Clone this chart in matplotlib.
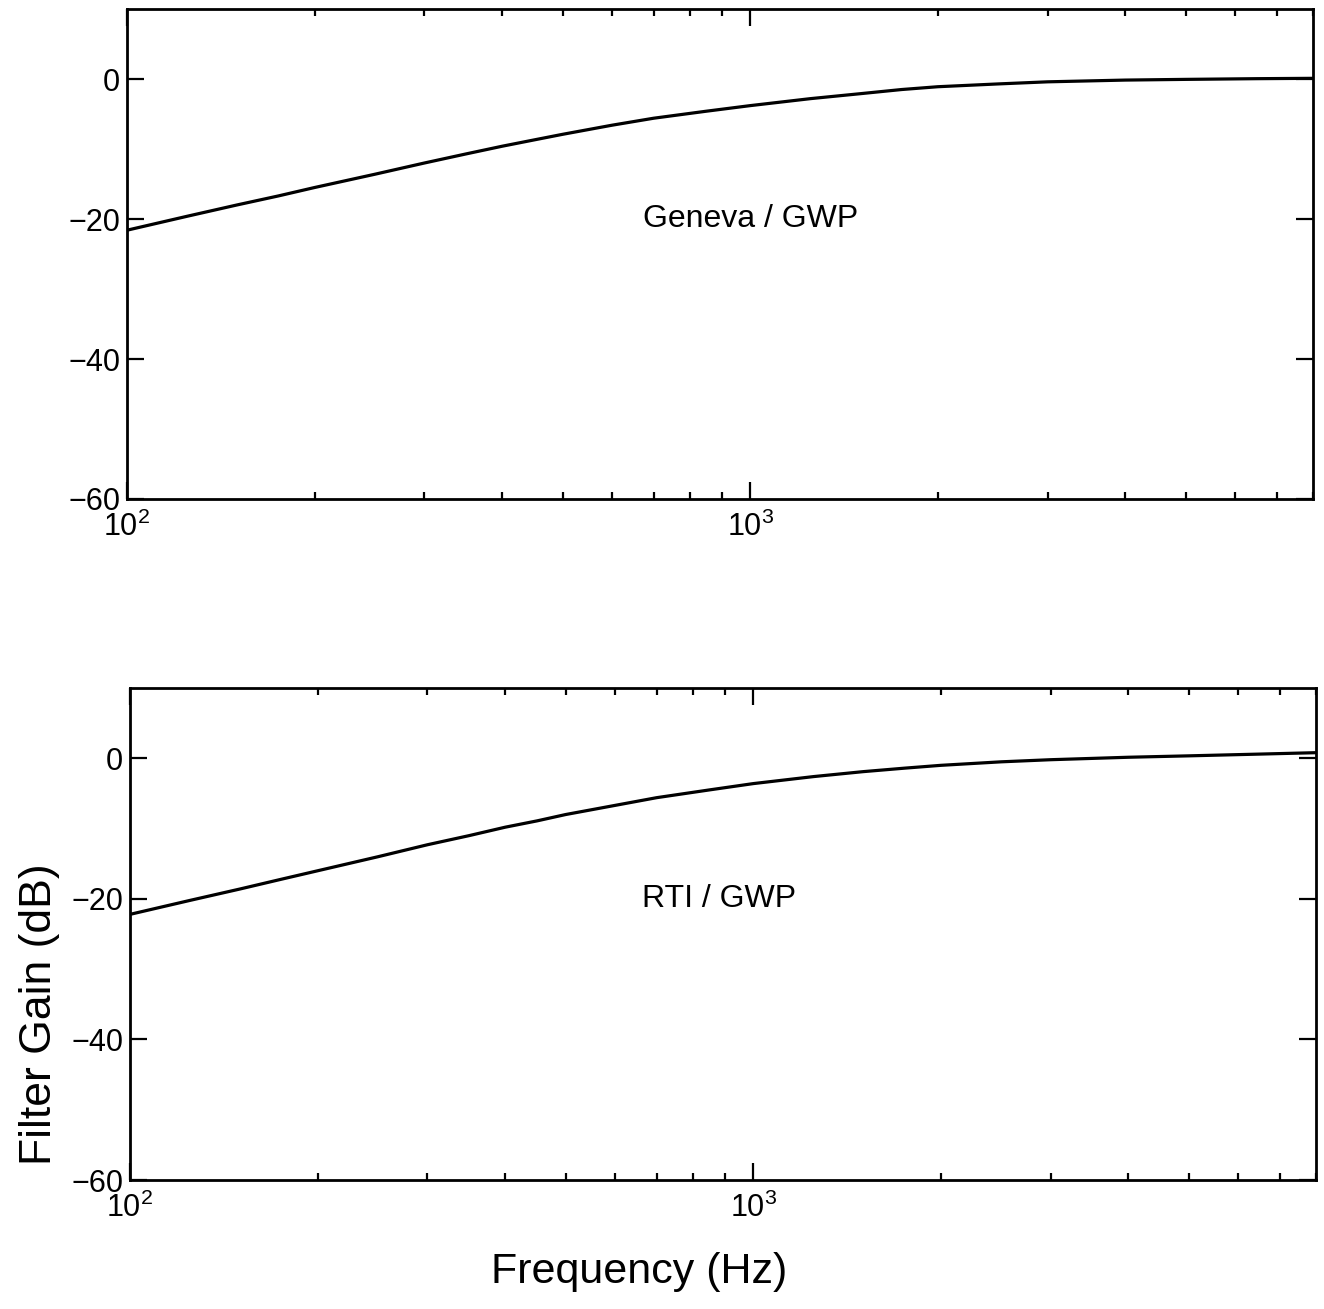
import matplotlib
matplotlib.use("Agg")
import matplotlib.pyplot as plt
from matplotlib.ticker import FixedLocator, LogLocator, NullFormatter

plt.rcParams['font.family'] = ['Liberation Sans', 'DejaVu Sans']
plt.rcParams['mathtext.fontset'] = 'custom'
plt.rcParams['mathtext.rm'] = 'Liberation Sans'
plt.rcParams['mathtext.it'] = 'Liberation Sans'

# Frequency grid (Hz) and filter gains (dB)
freq_hz = [100, 125, 150, 175, 200, 250, 300, 350, 400, 450, 500, 600, 700,
           850, 1000, 1250, 1500, 1750, 2000, 2500, 3000, 4000, 5000, 6500, 8000]
gain_geneva = [-21.6, -19.6, -18.0, -16.7, -15.5, -13.6, -12.0, -10.7, -9.6,
               -8.7, -7.9, -6.6, -5.6, -4.6, -3.8, -2.8, -2.1, -1.5, -1.1,
               -0.7, -0.4, -0.15, -0.05, 0.05, 0.1]
gain_rti = [-22.2, -20.2, -18.6, -17.2, -16.0, -14.0, -12.3, -11.0, -9.8,
            -8.9, -8.0, -6.7, -5.6, -4.5, -3.6, -2.6, -1.9, -1.4, -1.0,
            -0.5, -0.2, 0.15, 0.35, 0.6, 0.8]

panel_labels = ["Geneva / GWP", "RTI / GWP"]
label_pos = [(1000, -20), (880, -20)]
y_ticks = [-60, -40, -20, 0]
x_ticks = [100, 1000]
x_ticklabels = ["$10^2$", "$10^3$"]

fig = plt.figure(figsize=(13.24, 13.09), dpi=100)
ax_top = fig.add_axes([0.0959, 0.6188, 0.8958, 0.3743])
ax_bot = fig.add_axes([0.0982, 0.0985, 0.8958, 0.3759])

for ax, gains, label, pos in zip([ax_top, ax_bot], [gain_geneva, gain_rti],
                                 panel_labels, label_pos):
    ax.semilogx(freq_hz, gains, color='black', lw=2.3)
    ax.set_xlim(100, 8000)
    ax.set_ylim(-60, 10)
    ax.set_yticks(y_ticks)
    ax.set_yticklabels([("\u2212%d" % -v) if v < 0 else "%d" % v for v in y_ticks])
    ax.xaxis.set_major_locator(FixedLocator(x_ticks))
    ax.set_xticklabels(x_ticklabels)
    ax.xaxis.set_minor_locator(LogLocator(base=10, subs=range(2, 10)))
    ax.xaxis.set_minor_formatter(NullFormatter())
    ax.tick_params(which='both', direction='in', top=True, right=True,
                   width=1.6, labelsize=22, colors='black')
    ax.tick_params(which='major', length=12, pad=5)
    ax.tick_params(which='minor', length=5)
    ax.tick_params(axis='x', which='major', pad=9)
    for sp in ax.spines.values():
        sp.set_linewidth(2.0)
    ax.text(pos[0], pos[1], label, fontsize=23, ha='center', va='center')

fig.text(0.483, 0.028, "Frequency (Hz)", fontsize=31, ha='center', va='center')
fig.text(0.030, 0.225, "Filter Gain (dB)", fontsize=32, ha='center', va='center',
         rotation=90)

fig.savefig("out.png", dpi=100, facecolor='white')
